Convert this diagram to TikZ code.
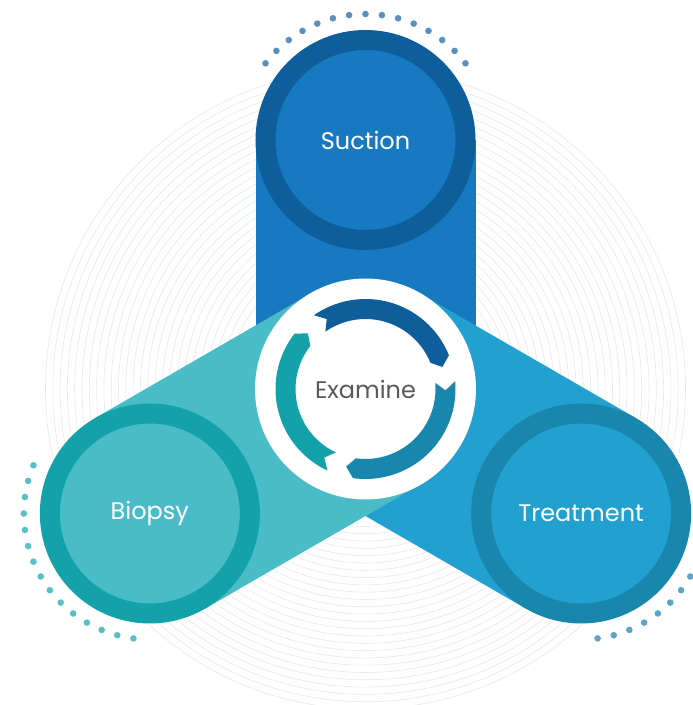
\documentclass[tikz,border=0pt]{standalone}
\usepackage{fontspec}
\newfontfamily\stagefont{Poppins}
\usepackage{tikz}
\usetikzlibrary{calc}
\definecolor{suctionDark}{HTML}{0F5E9C}
\definecolor{suctionFill}{HTML}{1779BF}
\definecolor{suctionDot}{HTML}{5A8FBE}
\definecolor{biopsyDark}{HTML}{13A1AA}
\definecolor{biopsyFill}{HTML}{49BCC8}
\definecolor{biopsyDot}{HTML}{5BBFC8}
\definecolor{treatDark}{HTML}{1886AD}
\definecolor{treatFill}{HTML}{22A0D0}
\definecolor{treatDot}{HTML}{5DA5C6}
\definecolor{ringGray}{HTML}{E8E8E8}
\definecolor{examGray}{HTML}{5A5A5A}
\newcommand{\cyclearrow}[3]
{   % #1 = tail angle
    % #2 = head angle
    % #3 = colour
    \fill[#3, shift={(hub)}]
        (#1:90pt) arc[start angle=#1, end angle=#2, radius=90pt]
        -- (#2-6:80pt) -- (#2:70pt)
        arc[start angle=#2, end angle=#1, radius=70pt]
        -- (#1-6:80pt) -- cycle;
}
\begin{document}
\begin{tikzpicture}
    \tikzset
    {
        base/.style = {circle,
                       inner sep = 0pt,
                       font = \stagefont\fontsize{24}{28}\selectfont},
        stage/.style = {base,
                        minimum size = 200pt,
                        line width = 20pt,
                        text = white},
        hubdisc/.style = {base,
                          minimum size = 221pt,
                          fill = white,
                          text = examGray},
        ring/.style = {draw = ringGray,
                       line width = 0.6pt}
    };
    \useasboundingbox (0,0) rectangle (693pt,705pt);
    \coordinate (hub) at (365.5pt,316pt);

    % Rings
    \foreach \i in {0,...,25}
        \draw[ring] (hub) circle[radius={(320-7.3*\i)*1pt}];

    % Bands
    \foreach \ang/\col in {90/suctionFill, 330/treatFill, 210/biopsyFill}
        \fill[\col, shift={(hub)}, rotate=\ang-90]
            (-110pt,0pt) -- (110pt,0pt) -- (110pt,249pt) -- (-110pt,249pt) -- cycle;

    % Stages
    \node[stage, draw=suctionDark, fill=suctionFill] (suction)
        at ($(hub)+(90:249pt)$) {Suction};
    \node[stage, draw=treatDark, fill=treatFill] (treatment)
        at ($(hub)+(330:249pt)$) {Treatment};
    \node[stage, draw=biopsyDark, fill=biopsyFill] (biopsy)
        at ($(hub)+(210:249pt)$) {Biopsy};

    % Dots
    \foreach \k in {0,...,14}
    {
        \fill[suctionDot] ($(suction)+(37.5+7.5*\k:126pt)$) circle[radius=3.3pt];
        \fill[treatDot] ($(treatment)+(-82.5+7.5*\k:126pt)$) circle[radius=3.3pt];
        \fill[biopsyDot] ($(biopsy)+(157.5+7.5*\k:126pt)$) circle[radius=3.3pt];
    }

    % Hub
    \node[hubdisc] (examine) at (hub) {Examine};
    \cyclearrow{125}{22}{suctionDark}
    \cyclearrow{5}{-98}{treatDark}
    \cyclearrow{-115}{-218}{biopsyDark}

\end{tikzpicture}
\end{document}
